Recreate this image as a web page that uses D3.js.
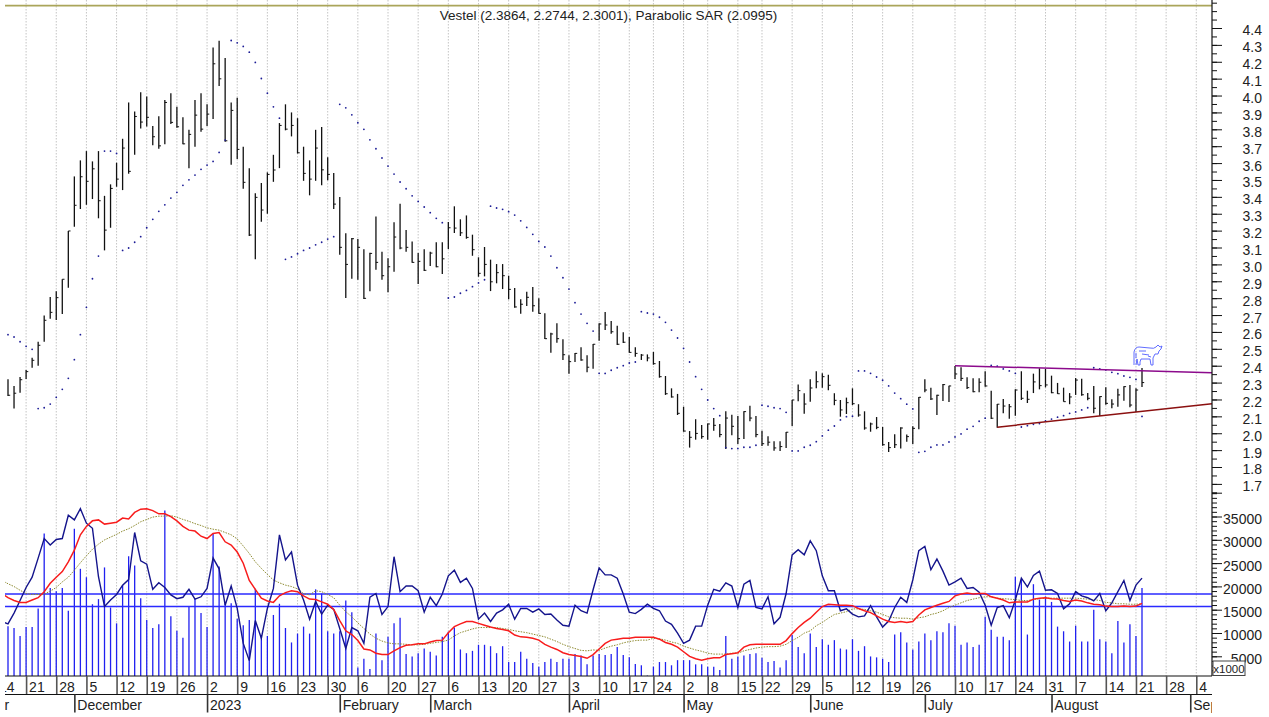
<!DOCTYPE html>
<html>
<head>
<meta charset="utf-8">
<script src="https://d3js.org/d3.v7.min.js"></script>
<style>
  html, body { margin: 0; padding: 0; background: #fff; overflow: hidden; }
  text { font-family: "Liberation Sans", Arial, sans-serif; fill: #222; }
  .domain { display: none; }
</style>
</head>
<body>
<svg id="chart" width="1269" height="717"></svg>
<script>
var titleText = "Vestel (2.3864, 2.2744, 2.3001), Parabolic SAR (2.0995)";

var high = [2.320,2.280,2.333,2.375,2.447,2.542,2.698,2.807,2.841,2.912,3.198,3.521,3.616,3.671,3.610,3.671,3.406,3.474,3.602,3.744,
  3.959,3.906,4.020,3.995,3.819,3.878,3.973,4.014,3.933,3.872,3.797,3.973,4.014,3.948,4.285,4.324,4.223,3.959,3.987,3.697,
  3.569,3.421,3.482,3.545,3.649,3.837,3.948,3.900,3.866,3.697,3.616,3.797,3.813,3.634,3.541,3.399,3.184,3.156,3.150,3.089,
  3.069,3.284,3.075,3.036,3.249,3.359,3.203,3.136,3.067,3.089,3.075,3.131,3.131,3.251,3.344,3.267,3.290,3.176,3.042,3.103,
  3.028,3.002,3.002,2.933,2.860,2.793,2.838,2.866,2.799,2.710,2.595,2.651,2.556,2.462,2.475,2.509,2.462,2.529,2.651,2.718,
  2.665,2.637,2.598,2.570,2.509,2.469,2.467,2.481,2.428,2.339,2.266,2.233,2.157,2.013,2.083,2.049,2.057,2.090,2.055,2.130,
  2.110,2.102,2.130,2.163,2.102,2.015,1.982,1.952,1.952,2.008,2.197,2.288,2.237,2.320,2.367,2.355,2.347,2.237,2.197,2.211,
  2.266,2.172,2.130,2.063,2.096,2.037,1.948,1.994,2.035,1.992,2.041,2.215,2.320,2.270,2.228,2.292,2.282,2.398,2.391,2.331,
  2.325,2.325,2.367,2.252,2.173,2.203,2.173,2.260,2.367,2.252,2.353,2.385,2.381,2.341,2.298,2.270,2.238,2.327,2.323,2.238,
  2.280,2.219,2.272,2.201,2.264,2.278,2.286,2.266,2.3864];
var low = [2.221,2.146,2.240,2.321,2.388,2.400,2.542,2.678,2.671,2.706,2.862,3.223,3.328,3.353,3.387,3.273,3.083,3.217,3.460,3.440,
  3.537,3.649,3.805,3.817,3.705,3.685,3.711,3.831,3.809,3.711,3.569,3.697,3.785,3.819,3.861,4.056,3.726,3.590,3.624,3.448,
  3.168,3.030,3.253,3.300,3.489,3.570,3.794,3.758,3.657,3.495,3.409,3.495,3.468,3.499,3.328,3.057,2.801,2.915,2.909,2.795,
  2.841,2.968,2.909,2.835,2.957,3.089,3.075,3.010,2.884,2.961,2.990,2.983,2.943,3.091,3.186,3.168,3.152,3.051,2.927,2.929,
  2.842,2.888,2.854,2.793,2.743,2.708,2.753,2.720,2.708,2.558,2.477,2.536,2.434,2.353,2.422,2.430,2.361,2.382,2.548,2.611,
  2.589,2.523,2.535,2.477,2.453,2.434,2.426,2.406,2.329,2.227,2.211,2.108,2.009,1.915,1.962,1.968,1.962,2.015,1.976,1.907,
  1.988,1.937,1.966,2.071,1.976,1.925,1.926,1.897,1.895,1.913,2.043,2.189,2.116,2.187,2.266,2.270,2.254,2.166,2.098,2.114,
  2.167,2.098,2.021,2.009,2.024,1.926,1.889,1.913,1.909,1.950,1.937,2.024,2.243,2.197,2.108,2.191,2.185,2.321,2.309,2.262,
  2.243,2.243,2.276,2.084,2.033,2.118,2.086,2.104,2.197,2.179,2.238,2.260,2.272,2.237,2.233,2.187,2.172,2.227,2.222,2.195,
  2.118,2.102,2.169,2.148,2.157,2.193,2.154,2.126,2.2744];
var close = [2.225,2.237,2.317,2.365,2.432,2.521,2.669,2.716,2.803,2.912,3.198,3.350,3.519,3.492,3.566,3.377,3.203,3.450,3.505,3.689,
  3.551,3.876,3.843,3.871,3.756,3.702,3.959,3.841,3.815,3.714,3.770,3.884,3.801,3.890,4.188,4.099,3.732,3.912,3.681,3.486,
  3.174,3.397,3.322,3.533,3.559,3.823,3.801,3.823,3.661,3.539,3.505,3.689,3.560,3.533,3.357,3.101,3.000,3.152,3.101,2.799,
  3.065,3.012,2.933,2.986,3.162,3.097,3.101,3.012,3.018,2.965,3.067,2.986,3.033,3.217,3.215,3.187,3.160,3.087,2.947,3.000,
  2.897,2.951,2.933,2.852,2.748,2.764,2.805,2.755,2.710,2.560,2.588,2.560,2.465,2.424,2.473,2.434,2.391,2.527,2.647,2.641,
  2.601,2.527,2.539,2.479,2.473,2.463,2.446,2.412,2.335,2.234,2.215,2.118,2.013,1.976,1.999,1.980,2.055,2.047,1.992,2.090,
  2.041,1.968,2.128,2.090,1.992,1.938,1.947,1.913,1.921,2.006,2.197,2.252,2.173,2.268,2.305,2.335,2.284,2.195,2.138,2.181,
  2.175,2.108,2.031,2.055,2.035,1.932,1.915,1.932,2.031,1.980,2.029,2.213,2.256,2.203,2.225,2.288,2.280,2.351,2.325,2.270,
  2.246,2.302,2.280,2.089,2.172,2.161,2.157,2.256,2.207,2.201,2.304,2.282,2.286,2.240,2.234,2.187,2.215,2.315,2.228,2.207,
  2.148,2.217,2.177,2.173,2.227,2.276,2.167,2.256,2.3001];
var sar = [2.584,2.570,2.542,2.515,2.497,
  2.146,2.151,2.173,2.213,2.260,2.325,2.436,2.584,2.746,2.915,3.049,
  3.671,3.671,3.657,
  3.083,3.097,3.131,3.164,3.217,3.267,3.314,3.353,3.393,3.427,3.468,3.501,3.529,3.563,3.588,3.610,3.663,3.736,
  4.326,4.312,4.291,4.257,4.196,4.101,4.014,3.933,3.866,
  3.030,3.044,3.063,3.083,3.097,3.116,3.131,3.150,3.164,
  3.948,3.927,3.886,3.839,3.800,3.738,3.685,3.630,3.582,3.535,3.488,3.448,3.406,3.373,3.340,3.306,3.273,3.247,
  2.801,2.807,2.829,2.846,2.868,2.890,2.909,
  3.345,3.334,3.326,3.312,3.292,3.258,3.219,3.178,3.136,3.103,3.049,2.980,2.921,2.854,2.773,2.706,2.651,2.605,
  2.355,2.354,2.373,2.388,2.400,2.416,2.422,
  2.720,2.712,2.706,2.687,2.657,2.611,2.564,2.503,2.422,2.335,2.260,2.197,2.146,2.104,
  1.915,1.909,1.909,1.917,1.917,1.929,
  2.166,2.160,2.151,2.146,2.124,
  1.895,1.895,1.917,1.929,1.950,1.984,2.018,2.043,2.079,2.098,2.101,
  2.369,2.369,2.355,2.333,2.314,2.280,2.238,2.205,2.172,2.144,
  1.887,1.893,1.917,1.931,1.931,1.948,1.978,1.996,2.024,2.041,2.071,2.089,
  2.402,2.397,2.381,2.369,2.355,
  2.037,2.045,2.053,2.057,2.073,2.084,2.095,2.104,2.118,2.126,2.138,2.151,
  2.388,2.381,2.375,2.361,2.353,2.339,2.331,2.319,
  2.0995];

// volume in thousands
var volume = [11.9,11.5,9.8,11.7,11.7,15.7,31.8,20.1,19.4,20.1,15.2,32.8,24.2,22.4,16.6,17.7,24.5,15.9,12.5,20.7,
  26.9,24.9,17.9,13.2,11.5,12.3,36.7,14.0,10.9,9.4,16.1,17.7,14.7,11.7,31.8,24.7,16.8,16.8,13.5,12.1,
  13.2,19.9,9.8,9.8,14.3,16.7,11.5,8.4,10.3,11.8,10.3,19.8,18.9,10.8,10.3,10.8,17.4,14.9,3.0,4.9,
  2.7,10.3,4.6,9.6,12.5,13.7,5.9,5.4,6.1,7.1,6.4,5.6,9.6,10.7,11.6,6.9,6.1,6.6,7.9,7.9,
  7.6,6.1,7.6,4.2,4.2,6.4,4.9,4.0,3.2,4.2,4.9,4.2,4.9,4.9,5.9,5.6,3.7,5.6,5.9,5.7,
  5.9,7.4,5.7,5.2,3.8,3.5,1.3,3.2,4.2,4.2,3.5,4.6,4.6,4.6,3.7,3.7,3.2,3.2,2.5,9.8,
  4.9,5.4,5.6,5.9,6.1,5.1,4.2,4.4,3.0,4.6,10.0,7.4,6.1,10.3,7.4,9.1,7.9,8.9,7.1,6.9,
  9.1,6.6,7.6,5.4,5.2,4.9,4.2,10.1,10.6,8.4,6.9,8.6,10.3,8.9,10.8,10.6,12.5,12.0,7.9,8.4,
  7.4,7.9,13.9,11.1,9.6,9.6,8.9,22.5,21.8,10.1,20.9,17.6,18.3,17.1,11.8,10.8,8.6,12.0,8.6,8.6,
  15.4,9.1,8.6,6.1,13.0,8.4,12.3,9.8,20.1];

// the three lines start one bar before the first volume bar
var navyLine = [12.9,12.4,14.7,17.4,20.2,22.4,26.5,30.7,29.3,30.5,30.7,35.7,34.7,37.1,34.0,32.9,22.5,16.1,17.5,18.7,20.7,
  21.9,32.0,25.9,25.2,19.8,21.2,20.2,18.6,17.8,18.1,19.8,17.7,18.2,20.0,26.5,24.2,16.4,20.5,15.7,8.2,
  4.5,13.1,9.3,15.7,20.0,31.5,26.1,27.8,20.7,17.5,13.4,17.2,14.5,16.4,15.5,11.4,7.1,11.6,10.9,8.2,
  18.1,18.9,14.4,16.1,26.8,19.3,20.5,20.5,19.5,14.9,18.1,16.3,18.8,22.7,23.9,21.3,22.2,20.0,13.4,14.7,
  12.9,14.7,15.4,16.6,13.4,15.7,15.7,14.9,15.6,14.4,14.5,13.2,12.1,11.9,16.4,15.2,14.7,19.7,24.4,22.9,
  22.9,22.2,18.8,14.9,14.6,15.5,16.6,15.7,15.2,13.0,12.3,10.4,8.2,8.9,11.9,11.9,16.4,19.8,19.4,21.2,
  20.5,15.9,20.9,21.7,15.9,15.6,18.2,12.4,13.8,18.9,27.2,28.3,27.2,30.2,28.1,22.7,19.5,19.5,15.2,15.6,
  14.5,13.9,14.1,16.3,13.9,11.7,13.0,15.9,18.1,17.0,21.8,28.1,29.0,24.0,26.3,23.7,20.7,21.4,22.2,20.0,
  20.2,19.2,16.4,12.1,15.9,16.3,13.7,17.5,22.2,20.3,22.8,23.7,19.6,19.7,18.9,15.6,16.7,19.3,18.4,18.0,
  17.3,18.9,15.2,16.9,19.3,21.7,17.4,20.7,22.2];
var redLine = [18.9,18.0,17.4,17.0,17.0,17.5,18.0,19.3,21.1,22.4,23.6,25.7,28.2,31.5,33.3,34.5,34.7,33.8,34.0,34.2,35.1,
  34.9,36.3,37.0,37.1,36.7,36.0,36.0,35.4,34.5,33.3,32.5,32.3,31.2,30.7,31.8,32.0,30.0,29.3,27.8,25.4,
  21.7,19.8,17.9,17.3,17.0,18.4,19.1,19.5,19.3,18.4,17.7,17.6,17.1,16.6,15.5,13.1,10.9,10.1,8.8,7.0,
  6.8,6.1,5.8,5.8,6.6,7.3,7.8,7.9,8.1,8.1,8.5,8.8,8.9,10.5,11.8,12.4,12.9,12.9,12.5,12.1,
  11.7,11.4,11.2,10.9,10.0,9.6,9.5,9.3,8.9,8.0,7.4,6.9,6.2,5.8,5.6,5.4,5.0,5.8,7.0,8.2,
  8.9,9.1,9.3,9.3,9.5,9.5,9.5,9.5,9.1,8.4,8.0,7.4,6.4,5.4,4.9,4.6,4.9,5.1,5.1,5.8,
  6.0,6.2,7.4,7.9,8.0,8.0,8.0,8.0,8.0,8.8,10.3,11.6,12.7,13.6,14.9,16.1,16.6,16.5,16.4,16.4,
  16.3,15.7,15.2,14.8,14.1,13.4,12.9,12.7,12.9,12.7,12.9,14.3,15.4,15.9,16.4,16.8,17.2,18.4,18.8,19.0,
  18.8,18.9,18.9,18.2,17.9,17.5,16.9,17.1,17.1,17.1,17.7,17.9,18.0,17.8,17.7,17.4,17.2,17.5,17.3,16.9,
  16.6,16.5,16.2,16.1,16.1,16.2,16.1,16.2,16.8];
var oliveLine = [21.7,21.0,20.4,19.6,18.9,18.7,18.7,18.8,19.4,20.2,21.4,22.4,23.9,25.5,27.0,28.4,29.5,30.4,31.0,31.6,32.3,
  32.8,33.5,34.3,34.8,35.3,35.5,35.5,35.6,35.3,34.8,34.4,33.9,33.5,33.0,32.7,32.5,32.0,31.5,30.6,29.1,
  27.5,25.7,24.3,23.0,21.8,21.2,20.7,20.4,19.9,18.9,18.6,19.5,19.3,18.7,18.0,16.4,15.0,13.9,12.6,11.4,
  10.2,9.3,8.7,8.3,8.1,8.1,8.0,7.9,7.9,8.0,8.2,8.4,8.6,8.9,9.8,10.5,10.9,11.3,11.6,11.6,
  11.6,11.6,11.4,11.2,10.9,10.7,10.5,10.2,9.9,9.6,9.1,8.6,8.0,7.5,7.1,6.7,6.6,6.8,6.7,7.2,
  7.6,7.9,8.3,8.6,8.8,8.9,8.9,9.3,9.2,8.9,8.5,8.2,7.6,7.2,6.8,6.5,6.1,5.9,5.9,5.9,
  6.1,6.1,6.6,6.9,7.2,7.4,7.5,7.5,7.6,8.0,8.8,9.5,10.4,10.9,12.0,12.7,13.6,14.4,14.7,15.0,
  15.6,15.6,15.5,15.2,14.9,14.4,13.9,13.7,13.6,13.6,13.4,13.7,13.9,14.4,14.7,15.2,15.9,16.4,16.9,17.4,
  17.7,18.0,18.2,18.2,17.9,17.8,17.7,17.6,17.4,17.4,17.6,17.8,17.9,17.9,17.9,17.9,17.9,17.9,17.8,17.7,
  17.6,17.4,17.0,16.9,16.7,16.7,16.6,16.6,16.7];
var volumeLevels = [18.8, 16.1];

var weekBars = [-2,3,8,13,18,23,28,33,38,43,48,53,58,63,68,73,78,83,88,93,98,103,107,112,116,121,125,130,135,140,145,150,157,162,167,172,177,182,187,192,197];
var weekLabels = ["14","21","28","5","12","19","26","2","9","16","23","30","6","20","27","6","13","20","27","3","10","17","24","2","8","15","22","29","5","12","19","26","10","17","24","31","7","14","21","28","4"];
var monthBars = [-11,11,33,55,70,93,112,133,152,173,196];
var monthLabels = ["November","December","2023","February","March","April","May","June","July","August","September"];

var priceTicks = d3.range(17, 45).map((d) => d / 10);
var priceMinor = d3.range(33, 92).map((d) => d / 20);
var volumeTicks = [5,10,15,20,25,30,35];
var volumeMinor = d3.range(2, 41);

var topLevel = 4.5326;
var resistance = [{ bar: 157, price: 2.4 }, { bar: 199.6, price: 2.359 }];
var support = [{ bar: 164, price: 2.036 }, { bar: 199.6, price: 2.175 }];

var dimensions = {
  width: 1269,
  height: 717,
  left: 5,
  right: 1212,
  panelBottom: 676,
  weekRow: 694.5,
  monthRow: 712.5,
};

var svg = d3.select("#chart");

var xScale = d3.scaleLinear().domain([0, 188]).range([8, 1142]);
var yPrice = d3.scaleLinear().domain([1.7, 4.4]).range([483.9, 28]);
var yVolume = d3.scaleLinear().domain([0, 35]).range([681.6, 518.5]);

svg.append("defs")
  .append("clipPath")
  .attr("id", "plotClip")
  .append("rect")
  .attr("x", dimensions.left)
  .attr("y", 0)
  .attr("width", dimensions.right - dimensions.left)
  .attr("height", dimensions.height);

var plot = svg.append("g").attr("clip-path", "url(#plotClip)");

// dotted week grid
plot.append("g")
  .selectAll("line")
  .data(weekBars)
  .enter()
  .append("line")
  .attr("x1", (d) => xScale(d))
  .attr("x2", (d) => xScale(d))
  .attr("y1", 0)
  .attr("y2", dimensions.panelBottom)
  .attr("stroke", "#c4c4c4")
  .attr("stroke-width", 1)
  .attr("stroke-dasharray", "1.5,1.5");

// olive line along the top
plot.append("line")
  .attr("x1", dimensions.left)
  .attr("x2", dimensions.right)
  .attr("y1", yPrice(topLevel))
  .attr("y2", yPrice(topLevel))
  .attr("stroke", "#aaa55a")
  .attr("stroke-width", 1.8);

// volume bars
plot.append("g")
  .selectAll("line")
  .data(volume)
  .enter()
  .append("line")
  .attr("x1", (d, i) => xScale(i))
  .attr("x2", (d, i) => xScale(i))
  .attr("y1", (d) => yVolume(d))
  .attr("y2", dimensions.panelBottom)
  .attr("stroke", "#2020f0")
  .attr("stroke-width", 1.3);

plot.append("g")
  .selectAll("line")
  .data(volumeLevels)
  .enter()
  .append("line")
  .attr("x1", dimensions.left)
  .attr("x2", dimensions.right)
  .attr("y1", (d) => yVolume(d))
  .attr("y2", (d) => yVolume(d))
  .attr("stroke", "#2a2aff")
  .attr("stroke-width", 1.4);

var volumeLine = d3
  .line()
  .x((d, i) => xScale(i - 1))
  .y((d) => yVolume(d));

plot.append("path")
  .attr("d", volumeLine(oliveLine))
  .attr("fill", "none")
  .attr("stroke", "#8d8a30")
  .attr("stroke-width", 1)
  .attr("stroke-dasharray", "1.5,1.2");

plot.append("path")
  .attr("d", volumeLine(navyLine))
  .attr("fill", "none")
  .attr("stroke", "#14148c")
  .attr("stroke-width", 1.4);

plot.append("path")
  .attr("d", volumeLine(redLine))
  .attr("fill", "none")
  .attr("stroke", "#f81c1c")
  .attr("stroke-width", 1.5);

// price bars
var bars = plot.append("g").attr("stroke", "#111").attr("stroke-width", 1.3);

bars.selectAll("line.range")
  .data(high)
  .enter()
  .append("line")
  .attr("class", "range")
  .attr("x1", (d, i) => xScale(i))
  .attr("x2", (d, i) => xScale(i))
  .attr("y1", (d) => yPrice(d))
  .attr("y2", (d, i) => yPrice(low[i]));

bars.selectAll("line.close")
  .data(close)
  .enter()
  .append("line")
  .attr("class", "close")
  .attr("x1", (d, i) => xScale(i))
  .attr("x2", (d, i) => xScale(i) + 2.2)
  .attr("y1", (d) => yPrice(d))
  .attr("y2", (d) => yPrice(d))
  .attr("stroke-width", 1);

// parabolic SAR
plot.append("g")
  .selectAll("circle")
  .data(sar)
  .enter()
  .append("circle")
  .attr("cx", (d, i) => xScale(i))
  .attr("cy", (d) => yPrice(d))
  .attr("r", 0.9)
  .attr("fill", "#1c1c96");

var priceLine = d3
  .line()
  .x((d) => xScale(d.bar))
  .y((d) => yPrice(d.price));

plot.append("path")
  .attr("d", priceLine(resistance))
  .attr("fill", "none")
  .attr("stroke", "#8c0a8c")
  .attr("stroke-width", 1.5);

plot.append("path")
  .attr("d", priceLine(support))
  .attr("fill", "none")
  .attr("stroke", "#8b1010")
  .attr("stroke-width", 1.5);

// bull signal above the last bar
svg.append("g")
  .attr("transform", "translate(1133,344)")
  .attr("fill", "none")
  .attr("stroke", "#4f5cff")
  .attr("stroke-width", 0.9)
  .selectAll("path")
  .data([
    "M1,21 L1,8 Q2,3 6,3 L17,4 Q21,5 23,3 L25,1 L27,3 L29,2 L28,5 L26,7 L25,10 L22,10 L20,14 L20,21 L18,21 L17,15 L8,15 L7,18 L7,21 L5,21 L4,15 L3,21",
    "M3,9 L3,14 M6,7 L13,7 M9,10 L16,11 M15,12 L18,13",
  ])
  .enter()
  .append("path")
  .attr("d", (d) => d);

svg.append("text")
  .attr("x", 608.5)
  .attr("y", 19.5)
  .attr("text-anchor", "middle")
  .attr("font-size", 13.5)
  .text(titleText);

// right hand axes
svg.append("line")
  .attr("x1", dimensions.right)
  .attr("x2", dimensions.right)
  .attr("y1", 0)
  .attr("y2", dimensions.panelBottom)
  .attr("stroke", "#111")
  .attr("stroke-width", 1.2);

function drawAxis(scale, shift, minor, major, format) {
  svg.append("g")
    .attr("transform", "translate(" + dimensions.right + "," + shift + ")")
    .call(d3.axisRight(scale).tickValues(minor).tickSize(5).tickFormat(""))
    .selectAll("line")
    .attr("stroke", "#111");

  var axis = svg.append("g")
    .attr("transform", "translate(" + dimensions.right + "," + shift + ")")
    .call(d3.axisRight(scale).tickValues(major).tickSize(10).tickFormat(format));
  axis.selectAll("line").attr("stroke", "#111");
  axis.selectAll("text")
    .attr("x", 50)
    .attr("y", 2.5)
    .attr("text-anchor", "end")
    .attr("font-size", 14)
    .attr("font-family", "Liberation Sans")
    .attr("fill", "#222");
}

drawAxis(yPrice, 0, priceMinor, priceTicks, d3.format(".1f"));
drawAxis(yVolume, -2, volumeMinor, volumeTicks, (d) => String(d * 1000));

// 40000 has a long tick but no label
svg.append("line")
  .attr("x1", dimensions.right)
  .attr("x2", dimensions.right + 10)
  .attr("y1", yVolume(40) - 2)
  .attr("y2", yVolume(40) - 2)
  .attr("stroke", "#111");

var scaleBox = svg.append("g").attr("transform", "translate(1213,661)");
scaleBox.append("rect")
  .attr("width", 32)
  .attr("height", 14.5)
  .attr("fill", "#fff")
  .attr("stroke", "#444");
scaleBox.append("text")
  .attr("x", 16)
  .attr("y", 11.5)
  .attr("text-anchor", "middle")
  .attr("font-size", 11.5)
  .text("x1000");

// date rows
var dateRows = svg.append("g").attr("clip-path", "url(#plotClip)");

dateRows.append("rect")
  .attr("x", dimensions.left)
  .attr("y", dimensions.panelBottom)
  .attr("width", dimensions.right - dimensions.left)
  .attr("height", 0)
  .attr("fill", "#fff");

[dimensions.panelBottom, dimensions.weekRow].forEach((y) => {
  dateRows.append("line")
    .attr("x1", dimensions.left)
    .attr("x2", dimensions.right)
    .attr("y1", y)
    .attr("y2", y)
    .attr("stroke", "#111")
    .attr("stroke-width", 1.2);
});

function drawDateRow(bars, labels, y, size, baseline, colour) {
  var axis = dateRows.append("g")
    .attr("transform", "translate(0," + y + ")")
    .call(
      d3.axisBottom(xScale)
        .tickValues(bars)
        .tickSize(size)
        .tickFormat((d, i) => labels[i])
    );
  axis.selectAll("line")
    .attr("stroke", colour)
    .attr("stroke-width", 1.6);
  axis.selectAll("text")
    .attr("x", 2.5)
    .attr("y", baseline)
    .attr("dy", 0)
    .attr("text-anchor", "start")
    .attr("font-size", 14)
    .attr("font-family", "Liberation Sans")
    .attr("fill", "#222");
}

drawDateRow(weekBars, weekLabels, dimensions.panelBottom, 18, 15.5, "#555");
drawDateRow(monthBars, monthLabels, dimensions.weekRow, 18, 15, "#333");
</script>
</body>
</html>
